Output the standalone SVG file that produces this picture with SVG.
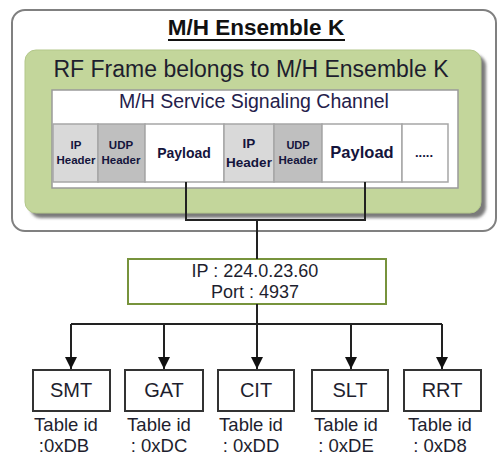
<svg xmlns="http://www.w3.org/2000/svg" width="499" height="457" viewBox="0 0 499 457">
<style>
text{font-family:"Liberation Sans",Arial,sans-serif;fill:#1e1e2e;text-anchor:middle}
.cell{stroke:#a6a6a6;stroke-width:1.5}
.b{font-weight:bold;fill:#14143c}
.tbl{fill:#fff;stroke:#333;stroke-width:2}
.lbl{font-size:18.5px}
.conn{fill:none;stroke:#222;stroke-width:2}
</style>
<defs>
<filter id="sh" x="-10%" y="-10%" width="130%" height="130%"><feGaussianBlur stdDeviation="1.5"/></filter>
<marker id="arr" markerWidth="12" markerHeight="12" viewBox="0 0 12 12" refX="12" refY="6" orient="auto" markerUnits="userSpaceOnUse"><path d="M0,0 L12,6 L0,12 Z" fill="#111"/></marker>
</defs>
<g id="ensemble">
<rect x="12" y="10" width="484" height="221" rx="13" fill="#fff" stroke="#808080" stroke-width="2"/>
<text x="256" y="35" class="b" style="font-size:22.5px;fill:#111">M/H Ensemble K</text>
<line x1="168" y1="40" x2="345" y2="40" stroke="#111" stroke-width="2"/>
</g>
<g id="rf-frame">
<rect x="30" y="55" width="456" height="163" rx="11" fill="#7a7a7a" filter="url(#sh)"/>
<rect x="25" y="50" width="456" height="163" rx="11" fill="#c3d69b" stroke="#b3c78a" stroke-width="1"/>
<text x="251" y="77" style="font-size:23px">RF Frame belongs to M/H Ensemble K</text>
</g>
<g id="signaling-channel">
<rect x="52" y="90" width="406" height="98" fill="#fff" stroke="#9a9a9a" stroke-width="1.5"/>
<text x="254" y="108" style="font-size:19.5px;fill:#24204a">M/H Service Signaling Channel</text>
<rect class="cell" x="53" y="124" width="45" height="58" fill="#d9d9d9"/>
<rect class="cell" x="98" y="124" width="47" height="58" fill="#bfbfbf"/>
<rect class="cell" x="145" y="124" width="79" height="58" fill="#fff"/>
<rect class="cell" x="224" y="124" width="50" height="58" fill="#d9d9d9"/>
<rect class="cell" x="274" y="124" width="48" height="58" fill="#bfbfbf"/>
<rect class="cell" x="322" y="124" width="80" height="58" fill="#fff"/>
<rect class="cell" x="402" y="124" width="46" height="58" fill="#fff"/>
<text class="b" x="76" y="149" style="font-size:11.5px">IP</text>
<text class="b" x="76" y="164" style="font-size:11.5px">Header</text>
<text class="b" x="121" y="149" style="font-size:11.5px">UDP</text>
<text class="b" x="121" y="164" style="font-size:11.5px">Header</text>
<text class="b" x="184" y="158" style="font-size:14px">Payload</text>
<text class="b" x="249" y="148" style="font-size:13.5px">IP</text>
<text class="b" x="249" y="167" style="font-size:13.5px">Header</text>
<text class="b" x="298" y="149" style="font-size:11px">UDP</text>
<text class="b" x="298" y="164" style="font-size:11.5px">Header</text>
<text class="b" x="362" y="158" style="font-size:16.5px">Payload</text>
<text class="b" x="424" y="157" style="font-size:13px">.....</text>
</g>
<g id="ip-port">
<rect x="128" y="259" width="258" height="45" fill="#fff" stroke="#77933c" stroke-width="2"/>
<text x="255" y="277" style="font-size:18px">IP : 224.0.23.60</text>
<text x="255" y="298" style="font-size:18px">Port : 4937</text>
</g>
<g id="connectors">
<path class="conn" d="M186,182 V220 H365 V182"/>
<path class="conn" d="M257,220 V259"/>
<path class="conn" d="M257,304 V324"/>
<path class="conn" d="M71,324 H442"/>
<path class="conn" d="M71,324 V369" marker-end="url(#arr)"/>
<path class="conn" d="M164,324 V369" marker-end="url(#arr)"/>
<path class="conn" d="M257,324 V369" marker-end="url(#arr)"/>
<path class="conn" d="M351,324 V369" marker-end="url(#arr)"/>
<path class="conn" d="M442,324 V369" marker-end="url(#arr)"/>
</g>
<g id="smt">
<rect class="tbl" x="33" y="370" width="77" height="41"/>
<text x="71" y="397" style="font-size:20px">SMT</text>
<text class="lbl" x="66" y="431">Table id</text>
<text class="lbl" x="64" y="452">:0xDB</text>
</g>
<g id="gat">
<rect class="tbl" x="125" y="370" width="78" height="41"/>
<text x="164" y="397" style="font-size:20px">GAT</text>
<text class="lbl" x="159" y="431">Table id</text>
<text class="lbl" x="159" y="452">: 0xDC</text>
</g>
<g id="cit">
<rect class="tbl" x="218" y="370" width="76" height="41"/>
<text x="256" y="397" style="font-size:20px">CIT</text>
<text class="lbl" x="251" y="431">Table id</text>
<text class="lbl" x="251" y="452">: 0xDD</text>
</g>
<g id="slt">
<rect class="tbl" x="312" y="370" width="76" height="41"/>
<text x="350" y="397" style="font-size:20px">SLT</text>
<text class="lbl" x="346" y="431">Table id</text>
<text class="lbl" x="346" y="452">: 0xDE</text>
</g>
<g id="rrt">
<rect class="tbl" x="404" y="370" width="77" height="41"/>
<text x="442" y="397" style="font-size:20px">RRT</text>
<text class="lbl" x="440" y="431">Table id</text>
<text class="lbl" x="440" y="452">: 0xD8</text>
</g>
</svg>
